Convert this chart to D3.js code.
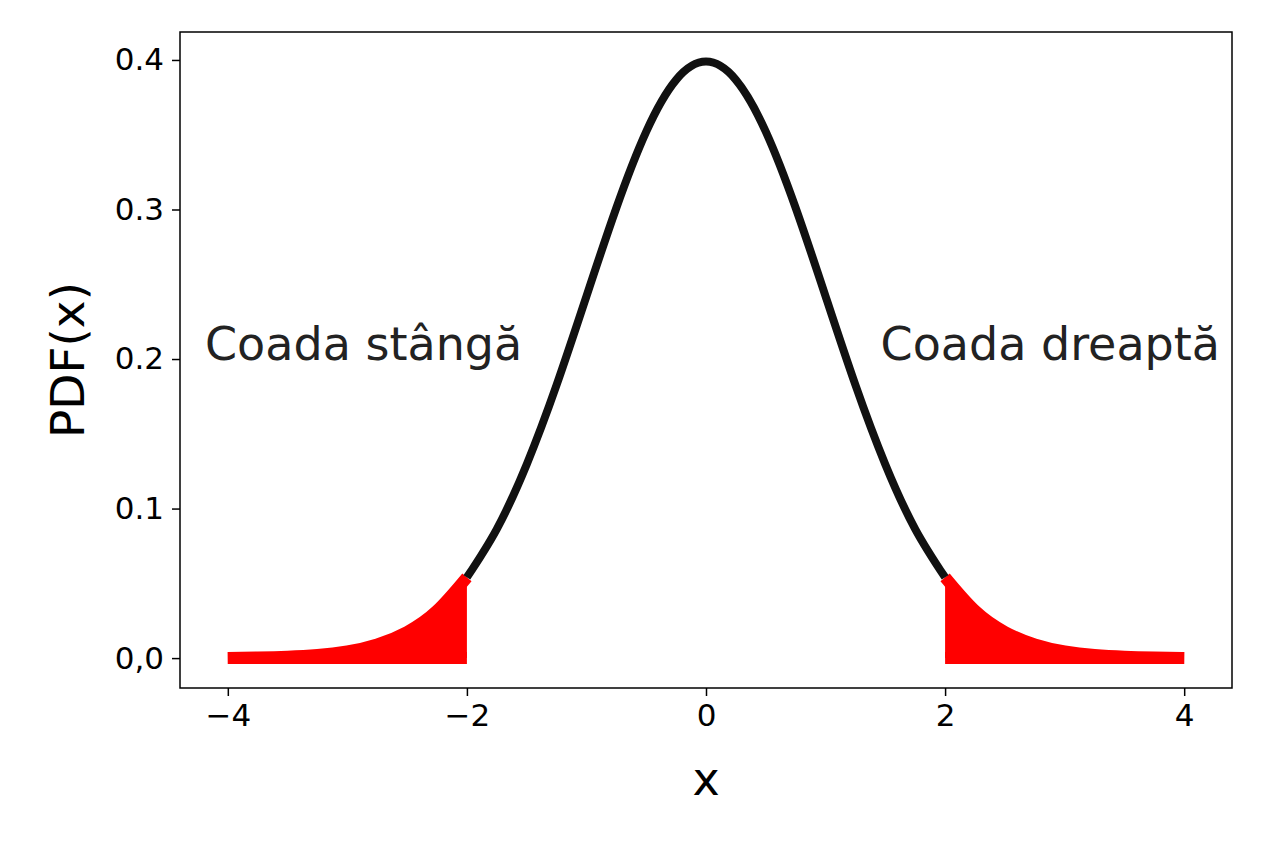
<!DOCTYPE html>
<html><head><meta charset="utf-8">
<script src="https://cdn.jsdelivr.net/npm/d3@7"></script>
<style>body{margin:0;background:#fff}text{font-family:"DejaVu Sans",sans-serif}</style>
</head><body><div id="chart"></div>
<script>
// values (x, density)
var xs = [-4,-3.75,-3.5,-3.25,-3,-2.75,-2.5,-2.25,-2,-1.75,-1.5,-1.25,-1,-0.75,-0.5,-0.25,0,0.25,0.5,0.75,1,1.25,1.5,1.75,2,2.25,2.5,2.75,3,3.25,3.5,3.75,4]
var ys = [0.0001,0.0004,0.0009,0.002,0.0044,0.0091,0.0175,0.0317,0.054,0.0863,0.1295,0.1826,0.242,0.3011,0.3521,0.3867,0.3989,0.3867,0.3521,0.3011,0.242,0.1826,0.1295,0.0863,0.054,0.0317,0.0175,0.0091,0.0044,0.002,0.0009,0.0004,0.0001]
var xTicks = [-4,-2,0,2,4]
var yTicks = [0,0.1,0.2,0.3,0.4]
var yTickLabels = ["0,0","0.1","0.2","0.3","0.4"]

var pts = xs.map(function(x,i){return {x:x,y:ys[i]}})
var mid = pts.filter(function(d){return d.x>=-2 && d.x<=2})
var leftT = pts.filter(function(d){return d.x<=-2})
var rightT = pts.filter(function(d){return d.x>=2})

var svg = d3.select("#chart").append("svg").attr("width",1264).attr("height",843)
var L=180,R=1232,T=32,B=688
var x = d3.scaleLinear().domain([-4.4,4.4]).range([L,R])
var y = d3.scaleLinear().domain([-0.02,0.4187]).range([B,T])

var line = d3.line().x(function(d){return x(d.x)}).y(function(d){return y(d.y)}).curve(d3.curveNatural)
var area = d3.area().x(function(d){return x(d.x)}).y0(y(0)).y1(function(d){return y(d.y)}).curve(d3.curveNatural)

;[leftT,rightT].forEach(function(t){
  svg.append("path").attr("d",area(t)).attr("fill","red")
  svg.append("path").attr("d",line(t)).attr("fill","none").attr("stroke","red").attr("stroke-width",12)
  svg.append("line").attr("x1",x(t[0].x)).attr("x2",x(t[t.length-1].x)).attr("y1",y(0)).attr("y2",y(0))
    .attr("stroke","red").attr("stroke-width",12)
})
svg.append("path").attr("d",line(mid)).attr("fill","none").attr("stroke","#111").attr("stroke-width",8)

svg.append("rect").attr("x",L).attr("y",T).attr("width",R-L).attr("height",B-T)
  .attr("fill","none").attr("stroke","#000").attr("stroke-width",1.5)

var xa = svg.append("g").attr("transform","translate(0,"+B+")")
  .call(d3.axisBottom(x).tickValues(xTicks).tickSize(8).tickPadding(8).tickFormat(function(d){return d<0?"\u2212"+(-d):d}))
var ya = svg.append("g").attr("transform","translate("+L+",0)")
  .call(d3.axisLeft(y).tickValues(yTicks).tickSize(8).tickPadding(8).tickFormat(function(d,i){return yTickLabels[i]}))
svg.selectAll(".domain").remove()
svg.selectAll(".tick line").attr("stroke","#000").attr("stroke-width",1.5)
svg.selectAll(".tick text").style("font-size","31px").attr("fill","#000").style("font-family","DejaVu Sans")

svg.append("text").attr("x",x(0)).attr("y",795).attr("text-anchor","middle").style("font-size","46px").text("x")
svg.append("text").attr("transform","translate(84,"+((T+B)/2)+") rotate(-90)").attr("text-anchor","middle")
  .style("font-size","47px").text("PDF(x)")
svg.append("text").attr("x",205).attr("y",360).style("font-size","46px").attr("fill","#222").text("Coada stângă")
svg.append("text").attr("x",1220).attr("y",360).attr("text-anchor","end").style("font-size","46px").attr("fill","#222").text("Coada dreaptă")
</script></body></html>
